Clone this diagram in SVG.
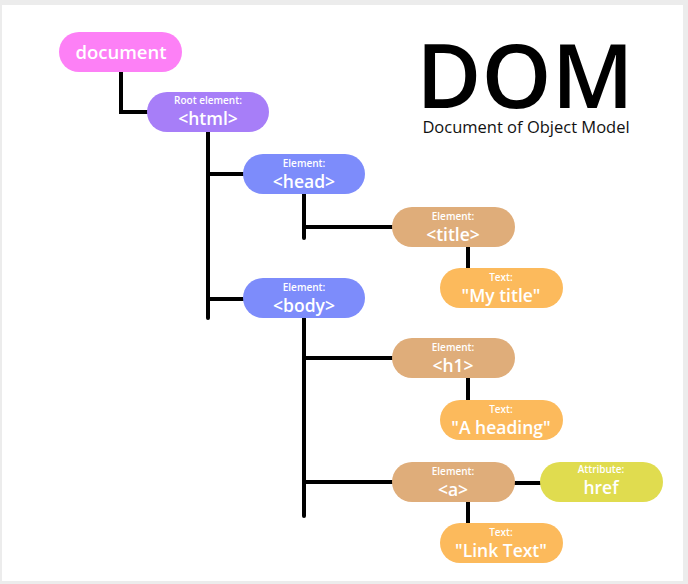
<svg xmlns="http://www.w3.org/2000/svg" width="688" height="584" viewBox="0 0 688 584">
  <style>
    .node rect { stroke: none; }
    .lbl { font-family: "Open Sans", "Noto Sans", sans-serif; fill: #ffffff; text-anchor: middle; }
    .small { font-size: 10px; font-weight: 600; }
    .big { font-size: 17.5px; font-weight: 600; }
    .links { stroke: #000000; stroke-width: 4; fill: none; stroke-linecap: round; stroke-linejoin: miter; }
    .pink { fill: #fd80f6; }
    .purple { fill: #a77ef8; }
    .blue { fill: #7d8cfb; }
    .tan { fill: #dfad7a; }
    .orange { fill: #fcba5c; }
    .lime { fill: #e0dc4f; }
  </style>

  <!-- page backdrop -->
  <rect x="0" y="0" width="688" height="584" fill="#ececec"/>
  <rect x="2" y="5" width="681" height="576" fill="#ffffff"/>

  <!-- title -->
  <text x="525" y="108" font-family="Open Sans, Noto Sans, sans-serif" font-size="89" font-weight="600" fill="#000000" text-anchor="middle">DOM</text>
  <text x="526" y="133" font-family="Open Sans, Noto Sans, sans-serif" font-size="16.5" fill="#111111" text-anchor="middle">Document of Object Model</text>

  <!-- tree connectors -->
  <g id="connectors" class="links">
    <path d="M121 72 V112 H147"/>
    <path d="M208 132 V318"/>
    <path d="M208 174 H243"/>
    <path d="M208 299 H243"/>
    <path d="M304 194 V238"/>
    <path d="M304 227 H392"/>
    <path d="M468 247 V268"/>
    <path d="M304 318 V516"/>
    <path d="M304 358 H392"/>
    <path d="M468 378 V400"/>
    <path d="M304 482 H392"/>
    <path d="M515 483 H540"/>
    <path d="M468 501 V523"/>
  </g>

  <g id="document" class="node">
    <rect class="pink" x="59" y="32" width="123" height="40" rx="20"/>
    <text class="lbl" x="121" y="59" font-size="18.5" font-weight="600">document</text>
  </g>

  <g id="html" class="node">
    <rect class="purple" x="147" y="92" width="122" height="40" rx="20"/>
    <text class="lbl small" x="208" y="104">Root element:</text>
    <text class="lbl big" x="208" y="125">&lt;html&gt;</text>
  </g>

  <g id="head" class="node">
    <rect class="blue" x="243" y="154" width="122" height="40" rx="20"/>
    <text class="lbl small" x="304" y="167">Element:</text>
    <text class="lbl big" x="304" y="188">&lt;head&gt;</text>
  </g>

  <g id="title" class="node">
    <rect class="tan" x="392" y="207" width="123" height="40" rx="20"/>
    <text class="lbl small" x="453" y="220">Element:</text>
    <text class="lbl big" x="453" y="241">&lt;title&gt;</text>
  </g>

  <g id="text-title" class="node">
    <rect class="orange" x="440" y="268" width="123" height="40" rx="20"/>
    <text class="lbl small" x="501" y="281">Text:</text>
    <text class="lbl big" x="501" y="302">"My title"</text>
  </g>

  <g id="body" class="node">
    <rect class="blue" x="243" y="278" width="122" height="40" rx="20"/>
    <text class="lbl small" x="304" y="291">Element:</text>
    <text class="lbl big" x="304" y="312">&lt;body&gt;</text>
  </g>

  <g id="h1" class="node">
    <rect class="tan" x="392" y="338" width="123" height="40" rx="20"/>
    <text class="lbl small" x="453" y="351">Element:</text>
    <text class="lbl big" x="453" y="372">&lt;h1&gt;</text>
  </g>

  <g id="text-heading" class="node">
    <rect class="orange" x="440" y="400" width="123" height="40" rx="20"/>
    <text class="lbl small" x="501" y="413">Text:</text>
    <text class="lbl big" x="501" y="434">"A heading"</text>
  </g>

  <g id="a" class="node">
    <rect class="tan" x="392" y="462" width="123" height="40" rx="20"/>
    <text class="lbl small" x="453" y="475">Element:</text>
    <text class="lbl big" x="453" y="496">&lt;a&gt;</text>
  </g>

  <g id="href" class="node">
    <rect class="lime" x="540" y="462" width="123" height="40" rx="20"/>
    <text class="lbl small" x="601" y="473">Attribute:</text>
    <text class="lbl big" x="601" y="494">href</text>
  </g>

  <g id="text-link" class="node">
    <rect class="orange" x="440" y="523" width="123" height="40" rx="20"/>
    <text class="lbl small" x="501" y="536">Text:</text>
    <text class="lbl big" x="501" y="557">"Link Text"</text>
  </g>
</svg>
